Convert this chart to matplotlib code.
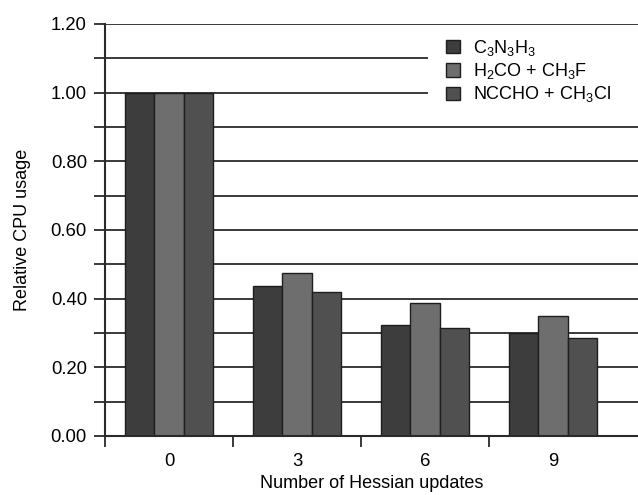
import matplotlib
matplotlib.use("Agg")
import matplotlib.pyplot as plt
from matplotlib.patches import Rectangle
import numpy as np

plt.rcParams['font.family'] = ['Liberation Sans', 'DejaVu Sans']
plt.rcParams['mathtext.fontset'] = 'custom'
plt.rcParams['mathtext.rm'] = 'Liberation Sans'

categories = ['0', '3', '6', '9']
series_names = [r'C$_3$N$_3$H$_3$', r'H$_2$CO + CH$_3$F', r'NCCHO + CH$_3$Cl']
c3n3h3 = [1.00, 0.437, 0.322, 0.300]
h2co_ch3f = [1.00, 0.475, 0.386, 0.349]
nccho_ch3cl = [1.00, 0.419, 0.314, 0.286]
colors = ['#3d3d3d', '#6e6e6e', '#505050']

fig = plt.figure(figsize=(6.38, 4.95), dpi=100)
ax = fig.add_axes([105/638, 59/495, 1 - 105/638, (436-24)/495])

x = np.arange(len(categories))
w = 0.227
for i, (vals, name, col) in enumerate(zip([c3n3h3, h2co_ch3f, nccho_ch3cl], series_names, colors)):
    ax.bar(x + (i - 1) * w, vals, width=w, color=col, edgecolor='#1e1e1e', linewidth=1.0,
           label=name, zorder=3)

ax.set_ylim(0, 1.2)
ax.set_xlim(-0.5, -0.5 + 533/128)
ax.set_yticks(np.arange(0, 1.21, 0.2))
ax.set_yticklabels([f'{v:.2f}' for v in np.arange(0, 1.21, 0.2)])
ax.set_yticks(np.arange(0.1, 1.2, 0.2), minor=True)
for yv in np.arange(0.1, 1.21, 0.1):
    ax.axhline(yv, color='#2a2a2a', linewidth=1.3, zorder=1)

# white legend area hiding gridlines
ax.add_patch(Rectangle(((428-105)/533, (436-110)/412), 1.0, (110-32)/412,
                       transform=ax.transAxes, facecolor='white', edgecolor='none', zorder=2))

ax.set_xticks(x)
ax.set_xticklabels(categories)
ax.tick_params(axis='x', which='major', length=0, pad=12, labelsize=13.3)
ax.set_xticks([-0.5, 0.5, 1.5, 2.5], minor=True)
ax.tick_params(axis='x', which='minor', length=8, width=1.3, color='#2a2a2a', direction='out')
ax.tick_params(axis='y', which='both', length=8, width=1.3, color='#2a2a2a', direction='out', labelsize=13.3, pad=5)

for s in ['top', 'right']:
    ax.spines[s].set_visible(False)
for s in ['left', 'bottom']:
    ax.spines[s].set_linewidth(1.5)
    ax.spines[s].set_color('#2a2a2a')
    ax.spines[s].set_zorder(4)

ax.set_ylabel('Relative CPU usage', fontsize=13, labelpad=14)
ax.set_xlabel('Number of Hessian updates', fontsize=13, labelpad=4)

leg = ax.legend(loc='upper left', bbox_to_anchor=((446-105)/533, (436-38)/412), frameon=False,
                fontsize=13, handlelength=0.75, handleheight=0.75, handletextpad=0.75,
                labelspacing=0.18, borderaxespad=0, borderpad=0)
leg.set_zorder(5)

fig.savefig('out.png', dpi=100)
